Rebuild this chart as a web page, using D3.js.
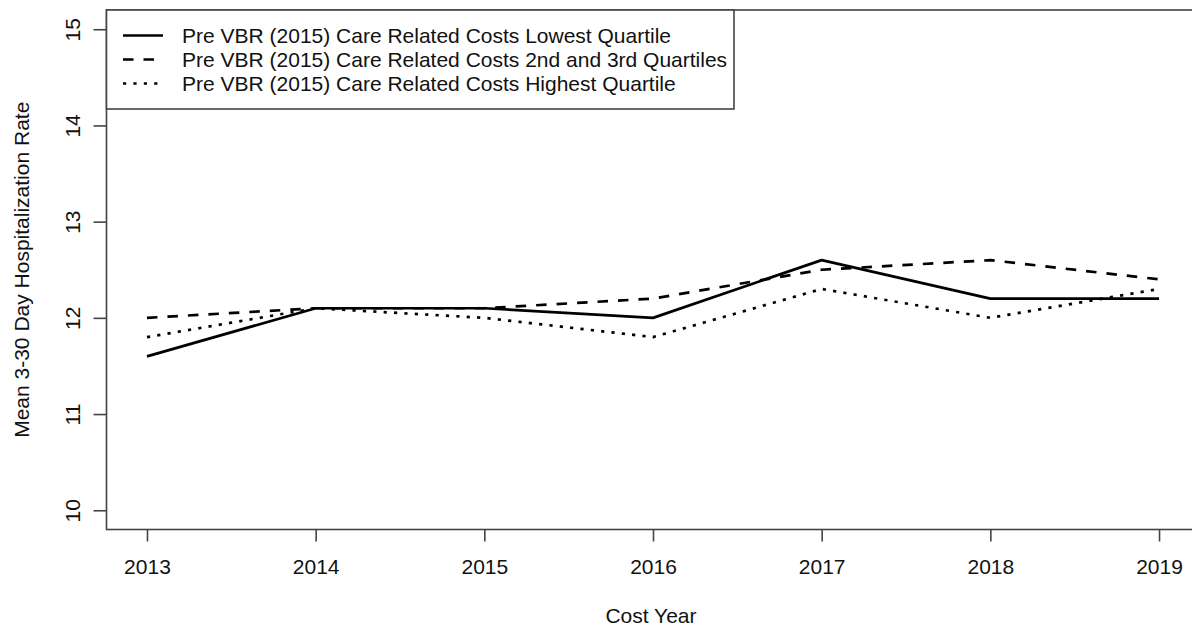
<!DOCTYPE html>
<html>
<head>
<meta charset="utf-8">
<script src="https://cdn.jsdelivr.net/npm/d3@7"></script>
<style>
  html, body { margin: 0; padding: 0; background: #fff; }
  svg { display: block; font-family: "Liberation Sans", Arial, sans-serif; }
</style>
</head>
<body>
<svg id="chart" width="1192" height="627"></svg>
<script>
// Mean 3-30 day hospitalization rate by cost year, grouped by pre-VBR (2015) care related cost quartile
const years = [2013, 2014, 2015, 2016, 2017, 2018, 2019];
const lowestQuartile = [11.6, 12.1, 12.1, 12.0, 12.6, 12.2, 12.2];
const middleQuartiles = [12.0, 12.1, 12.1, 12.2, 12.5, 12.6, 12.4];
const highestQuartile = [11.8, 12.1, 12.0, 11.8, 12.3, 12.0, 12.3];
const yTicks = [10, 11, 12, 13, 14, 15];
const seriesLabels = [
  "Pre VBR (2015) Care Related Costs Lowest Quartile",
  "Pre VBR (2015) Care Related Costs 2nd and 3rd Quartiles",
  "Pre VBR (2015) Care Related Costs Highest Quartile"
];
const xTitle = "Cost Year";
const yTitle = "Mean 3-30 Day Hospitalization Rate";

const series = [
  { label: seriesLabels[0], values: lowestQuartile, dash: null },
  { label: seriesLabels[1], values: middleQuartiles, dash: "10.5,10" },
  { label: seriesLabels[2], values: highestQuartile, dash: "3.2,7.2" }
];

const svg = d3.select("#chart");
const plot = { left: 106.5, right: 1199.5, top: 10, bottom: 529.5 };
const axisColor = "#444";
const fontSize = 21;

// plot region padded 4% beyond the data range on each side
const xPad = (years[years.length - 1] - years[0]) * 0.04;
const x = d3.scaleLinear()
  .domain([years[0] - xPad, years[years.length - 1] + xPad])
  .range([plot.left, plot.right]);
const yPad = (15 - 10) * 0.04;
const y = d3.scaleLinear()
  .domain([10 - yPad, 15 + yPad])
  .range([plot.bottom, plot.top]);

// x axis: ticks only, the frame is drawn separately
const xAxis = svg.append("g")
  .attr("transform", `translate(0,${plot.bottom})`)
  .call(d3.axisBottom(x).tickValues(years).tickFormat(d3.format("d")).tickSize(12).tickSizeOuter(0).tickPadding(18));
xAxis.select(".domain").remove();
xAxis.selectAll("line").attr("stroke", axisColor).attr("stroke-width", 1.6);
xAxis.selectAll("text")
  .attr("font-size", fontSize)
  .attr("font-family", "Liberation Sans, Arial, sans-serif")
  .attr("fill", "#111");

// y axis with labels rotated parallel to the axis
const yAxis = svg.append("g")
  .attr("transform", `translate(${plot.left},0)`)
  .call(d3.axisLeft(y).tickValues(yTicks).tickSize(13).tickSizeOuter(0).tickFormat(d3.format("d")));
yAxis.select(".domain").remove();
yAxis.selectAll("line").attr("stroke", axisColor).attr("stroke-width", 1.6);
yAxis.selectAll("text")
  .attr("font-size", fontSize)
  .attr("font-family", "Liberation Sans, Arial, sans-serif")
  .attr("fill", "#111")
  .attr("x", null).attr("dy", null)
  .attr("text-anchor", "middle")
  .attr("transform", `translate(${-27},0) rotate(-90)`)
  .attr("dominant-baseline", "auto");

// series lines
const line = d3.line()
  .x((d, i) => x(years[i]))
  .y(d => y(d));

svg.append("g")
  .selectAll("path")
  .data(series)
  .join("path")
  .attr("d", d => line(d.values))
  .attr("fill", "none")
  .attr("stroke", "#000")
  .attr("stroke-width", 2.7)
  .attr("stroke-linejoin", "round")
  .attr("stroke-dasharray", d => d.dash);

// plot frame
svg.append("rect")
  .attr("x", plot.left).attr("y", plot.top)
  .attr("width", plot.right - plot.left).attr("height", plot.bottom - plot.top)
  .attr("fill", "none").attr("stroke", axisColor).attr("stroke-width", 1.6);

// legend in the top-left corner
const legend = svg.append("g");
const legendBox = { x: plot.left, y: plot.top, w: 734 - plot.left, h: 109 - plot.top };
legend.append("rect")
  .attr("x", legendBox.x).attr("y", legendBox.y)
  .attr("width", legendBox.w).attr("height", legendBox.h)
  .attr("fill", "#fff").attr("stroke", axisColor).attr("stroke-width", 1.6);
const rowY = i => 35.5 + i * 24;
legend.selectAll("line.key")
  .data(series)
  .join("line")
  .attr("class", "key")
  .attr("x1", 123).attr("x2", 163)
  .attr("y1", (d, i) => rowY(i)).attr("y2", (d, i) => rowY(i))
  .attr("stroke", "#000").attr("stroke-width", 2.7)
  .attr("stroke-dasharray", d => d.dash);
legend.selectAll("text")
  .data(series)
  .join("text")
  .attr("x", 182)
  .attr("y", (d, i) => rowY(i))
  .attr("dy", "0.35em")
  .attr("font-size", fontSize)
  .attr("fill", "#111")
  .text(d => d.label);

// axis titles
svg.append("text")
  .attr("x", (plot.left + plot.right) / 2 - 2)
  .attr("y", 616)
  .attr("dy", "0.35em")
  .attr("text-anchor", "middle")
  .attr("font-size", fontSize)
  .attr("fill", "#111")
  .text(xTitle);

svg.append("text")
  .attr("transform", `translate(21.5,${(plot.top + plot.bottom) / 2}) rotate(-90)`)
  .attr("dy", "0.35em")
  .attr("text-anchor", "middle")
  .attr("font-size", fontSize)
  .attr("fill", "#111")
  .text(yTitle);
</script>
</body>
</html>
